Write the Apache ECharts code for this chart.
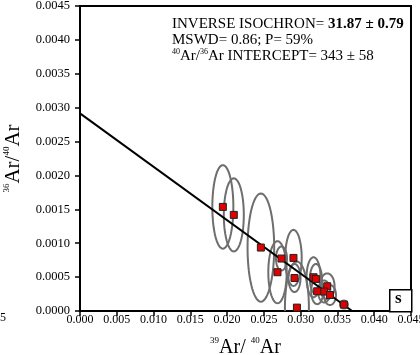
<!DOCTYPE html>
<html>
<head>
<meta charset="utf-8">
<script src="https://cdn.jsdelivr.net/npm/echarts@6/dist/echarts.min.js"></script>
<style>
html,body{margin:0;padding:0;background:#fff;}
#chart{width:420px;height:355px;}
</style>
</head>
<body>
<div id="chart"></div>
<script>
// 39Ar/40Ar values
var ar39ar40 = [0.01942, 0.02091, 0.02459, 0.02739, 0.02902, 0.02685, 0.02916, 0.02949, 0.03175, 0.03207, 0.03225, 0.03361, 0.03320, 0.03398, 0.03588];
// 36Ar/40Ar values
var ar36ar40 = [0.001536, 0.001418, 0.000936, 0.000774, 0.000783, 0.000572, 0.000487, 0.000050, 0.000498, 0.000473, 0.000291, 0.000365, 0.000287, 0.000236, 0.000095];
// error ellipse semi-axes (data units)
var errX = [0.00143, 0.00136, 0.00181, 0.00075, 0.00112, 0.00125, 0.00082, 0.00163, 0.00095, 0.00082, 0.00082, 0.00100, 0.00082, 0.00082, 0.00054];
var errY = [0.000616, 0.000539, 0.000798, 0.000177, 0.000414, 0.000458, 0.000207, 0.000680, 0.000295, 0.000220, 0.000190, 0.000190, 0.000162, 0.000148, 0.000059];
// isochron line end points
var isoX = [0, 0.03700];
var isoY = [0.002915, 0];
var xTicks = {min: 0, max: 0.045, interval: 0.005};
var yTicks = {min: 0, max: 0.0045, interval: 0.0005};

var serif = '"Liberation Serif", "DejaVu Serif", serif';
var pts = ar39ar40.map(function(x, i){ return [x, ar36ar40[i], errX[i], errY[i]]; });

var chart = echarts.init(document.getElementById('chart'), null, {renderer: 'canvas'});
chart.setOption({
  animation: false,
  backgroundColor: '#fff',
  grid: {left: 80, right: 9, top: 6, bottom: 44, show: true, borderColor: '#000', borderWidth: 2, containLabel: false, outerBoundsMode: 'none'},
  xAxis: {
    type: 'value', min: xTicks.min, max: xTicks.max, interval: xTicks.interval,
    axisLine: {show: true, onZero: false, lineStyle: {color: '#000', width: 2}},
    axisTick: {show: true, inside: false, length: 5, lineStyle: {color: '#000', width: 1.5}},
    splitLine: {show: false},
    axisLabel: {color: '#000', fontFamily: serif, fontSize: 12, margin: 3, formatter: function(v){ return v.toFixed(3); }, showMaxLabel: true, showMinLabel: true, hideOverlap: false},
    name: '{s|39}{b|Ar/ }{s|40}{b|Ar}', nameLocation: 'middle', nameGap: 25,
    nameTextStyle: {rich: {
      b: {fontFamily: serif, fontSize: 20, color: '#000', verticalAlign: 'bottom', lineHeight: 22},
      s: {fontFamily: serif, fontSize: 9, color: '#000', verticalAlign: 'top', lineHeight: 22}
    }}
  },
  yAxis: {
    type: 'value', min: yTicks.min, max: yTicks.max, interval: yTicks.interval,
    axisLine: {show: true, onZero: false, lineStyle: {color: '#000', width: 2}},
    axisTick: {show: true, inside: false, length: 5, lineStyle: {color: '#000', width: 1.5}},
    splitLine: {show: false},
    axisLabel: {color: '#000', fontFamily: serif, fontSize: 12.5, margin: 10, formatter: function(v){ return v.toFixed(4); }, hideOverlap: false},
    name: '{s|36}{b|Ar/}{s|40}{b|Ar}', nameLocation: 'middle', nameGap: 56, nameRotate: 90,
    nameTextStyle: {rich: {
      b: {fontFamily: serif, fontSize: 21, color: '#000', verticalAlign: 'bottom', lineHeight: 22},
      s: {fontFamily: serif, fontSize: 9, color: '#000', verticalAlign: 'top', lineHeight: 22}
    }}
  },
  series: [
    {
      type: 'custom', clip: true, z: 2,
      data: pts,
      renderItem: function(params, api){
        var c = api.coord([api.value(0), api.value(1)]);
        var s = api.size([api.value(2), api.value(3)]);
        var rx = s[0], ry = s[1];
        var points = [];
        for (var k = 0; k < 72; k++) {
          var t = k / 72 * Math.PI * 2;
          points.push([c[0] + rx * Math.cos(t), c[1] + ry * Math.sin(t)]);
        }
        return {
          type: 'polygon',
          shape: {points: points},
          style: {fill: 'none', stroke: '#6e6e6e', lineWidth: 2}
        };
      }
    },
    {
      type: 'line', z: 3,
      data: isoX.map(function(x, i){ return [x, isoY[i]]; }),
      symbol: 'none',
      lineStyle: {color: '#000', width: 2}
    },
    {
      type: 'scatter', z: 4,
      data: pts.map(function(p){ return [p[0], p[1]]; }),
      symbol: 'rect', symbolSize: 7,
      itemStyle: {color: '#e00000', borderColor: '#222', borderWidth: 1, opacity: 1}
    }
  ],
  graphic: [
    {
      type: 'text', left: 172, top: 17, z: 10,
      style: {
        text: '{n|INVERSE ISOCHRON= }{bold|31.87 ± 0.79}\n{n|MSWD= 0.86; P= 59%}\n{sup|40}{n|Ar/}{sup|36}{n|Ar INTERCEPT= 343 ± 58}',
        rich: {
          n: {fontFamily: serif, fontSize: 15, fill: '#000', lineHeight: 16, verticalAlign: 'bottom'},
          bold: {fontFamily: serif, fontSize: 15, fontWeight: 'bold', fill: '#000', lineHeight: 16, verticalAlign: 'bottom'},
          sup: {fontFamily: serif, fontSize: 8, fill: '#000', lineHeight: 16, verticalAlign: 'top'}
        }
      }
    },
    {
      type: 'rect', left: 389, top: 289, z: 10,
      shape: {width: 22, height: 22},
      style: {fill: '#fff', stroke: '#000', lineWidth: 1.5}
    },
    {
      type: 'text', left: 395, top: 290, z: 11,
      style: {text: 's', fontFamily: serif, fontSize: 17, fontWeight: 'bold', fill: '#000'}
    },
    {
      type: 'text', right: 414, top: 312, z: 10,
      style: {text: '0.045', fontFamily: serif, fontSize: 12, fill: '#000'}
    }
  ]
});
</script>
</body>
</html>
